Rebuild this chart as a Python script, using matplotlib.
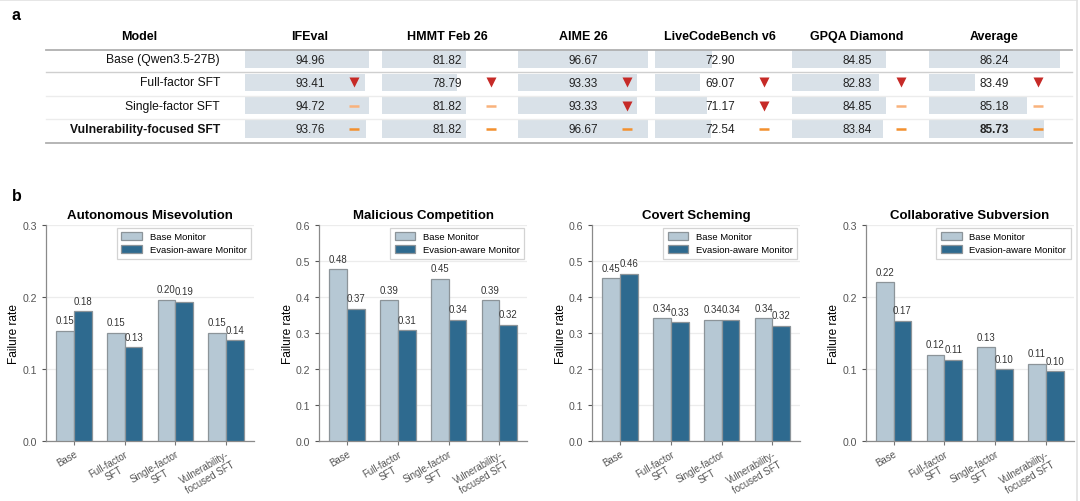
import matplotlib
matplotlib.use('Agg')
import matplotlib.pyplot as plt
import numpy as np

plt.rcParams['font.family'] = ['Liberation Sans', 'DejaVu Sans']

# ---------------- Panel a: table data ----------------
benchmarks = ['IFEval', 'HMMT Feb 26', 'AIME 26', 'LiveCodeBench v6', 'GPQA Diamond', 'Average']
models = ['Base (Qwen3.5-27B)', 'Full-factor SFT', 'Single-factor SFT', 'Vulnerability-focused SFT']
ifeval = [94.96, 93.41, 94.72, 93.76]
hmmt = [81.82, 78.79, 81.82, 81.82]
aime = [96.67, 93.33, 93.33, 96.67]
livecodebench = [72.90, 69.07, 71.17, 72.54]
gpqa = [84.85, 82.83, 84.85, 83.84]
average = [86.24, 83.49, 85.18, 85.73]
# change indicator vs. base: '' = none, 'down' = drop, 'same' = unchanged
ifeval_mark = ['', 'down', 'same', 'same']
hmmt_mark = ['', 'down', 'same', 'same']
aime_mark = ['', 'down', 'down', 'same']
livecodebench_mark = ['', 'down', 'down', 'same']
gpqa_mark = ['', 'down', 'same', 'same']
average_mark = ['', 'down', 'same', 'same']

# ---------------- Panel b: bar data ----------------
categories = ['Base', 'Full-factor\nSFT', 'Single-factor\nSFT', 'Vulnerability-\nfocused SFT']
titles = ['Autonomous Misevolution', 'Malicious Competition', 'Covert Scheming', 'Collaborative Subversion']
misevolution_base = [0.153, 0.150, 0.196, 0.150]
misevolution_evasion = [0.180, 0.130, 0.193, 0.140]
competition_base = [0.476, 0.391, 0.450, 0.391]
competition_evasion = [0.367, 0.307, 0.337, 0.323]
scheming_base = [0.452, 0.341, 0.337, 0.341]
scheming_evasion = [0.464, 0.330, 0.337, 0.320]
subversion_base = [0.220, 0.120, 0.130, 0.107]
subversion_evasion = [0.167, 0.113, 0.100, 0.097]
ymax = [0.3, 0.6, 0.6, 0.3]

W, H = 1080, 502
fig = plt.figure(figsize=(W / 100, H / 100), dpi=100)

def fx(px):
    return px / W

def fy(py):
    return 1 - py / H

# ---------- table ----------
table_cols = [ifeval, hmmt, aime, livecodebench, gpqa, average]
table_marks = [ifeval_mark, hmmt_mark, aime_mark, livecodebench_mark, gpqa_mark, average_mark]
col_centers = [310, 447, 583, 720, 857, 994]
bar_lo = [54, 54, 54, 54, 54, 82]
bar_hi = [96.95, 96.95, 96.95, 96.95, 96.95, 86.24]
row_y = [60, 83.33, 106.67, 130]
row_h = 23.33
bar_color = '#d9e1e8'

for vals, c, lo, hi in zip(table_cols, col_centers, bar_lo, bar_hi):
    bw = 131
    ax = fig.add_axes([fx(c - 65.5), fy(row_y[-1] + row_h / 2), fx(bw),
                       (row_h * 4) / H])
    ax.barh(np.arange(len(vals)), np.array(vals) - lo, left=lo, height=0.73,
            color=bar_color, edgecolor='none')
    ax.set_xlim(lo, hi)
    ax.set_ylim(3.5, -0.5)
    ax.axis('off')

ov = fig.add_axes([0, 0, 1, 1])
ov.set_xlim(0, W)
ov.set_ylim(H, 0)
ov.axis('off')

# figure frame (top/right)
ov.plot([0, 1077], [1, 1], color='#e2e2e2', lw=1.2)
ov.plot([1077, 1077], [1, H], color='#e2e2e2', lw=1.2)

ov.text(12, 16, 'a', fontsize=11.5, fontweight='bold', va='center', ha='left')
ov.text(12, 197, 'b', fontsize=11.5, fontweight='bold', va='center', ha='left')

hdr_y = 37
ov.text(139, hdr_y, 'Model', fontsize=9, fontweight='bold', ha='center', va='center')
for name, c in zip(benchmarks, col_centers):
    ov.text(c, hdr_y, name, fontsize=9, fontweight='bold', ha='center', va='center')

x0, x1 = 46, 1072
ov.plot([x0, x1], [50.7, 50.7], color='#b0b0b0', lw=1.3)
ov.plot([x0, x1], [73.3, 73.3], color='#cfcfcf', lw=1.0)
ov.plot([x0, x1], [96.7, 96.7], color='#ececec', lw=1.0)
ov.plot([x0, x1], [120.3, 120.3], color='#ececec', lw=1.0)
ov.plot([x0, x1], [143.7, 143.7], color='#b0b0b0', lw=1.3)

for i, m in enumerate(models):
    ov.text(220, row_y[i], m, fontsize=8.7, ha='right', va='center',
            fontweight='bold' if i == 3 else 'normal', color='#111111')

same_colors = {2: '#f9b27c', 3: '#f3902e'}
for j, (vals, marks, c) in enumerate(zip(table_cols, table_marks, col_centers)):
    for i, (v, mk) in enumerate(zip(vals, marks)):
        bold = (j == len(table_cols) - 1 and i == 3)
        ov.text(c, row_y[i] + 0.5, f'{v:.2f}', fontsize=8.5, ha='center', va='center',
                fontweight='bold' if bold else 'normal', color='#222222')
        mx = c + 43.5
        if mk == 'down':
            ov.plot([mx], [row_y[i]], marker='v', ms=7, color='#c62a27', mec='none')
        elif mk == 'same':
            ov.plot([mx], [row_y[i]], marker='_', ms=6.5, mew=1.8,
                    color=same_colors.get(i, '#f3902e'))

# ---------- bar charts ----------
base_series = [misevolution_base, competition_base, scheming_base, subversion_base]
evasion_series = [misevolution_evasion, competition_evasion, scheming_evasion, subversion_evasion]
ax_lefts = [46, 319.3, 592.3, 865.7]
ax_w = 208
ax_top, ax_bot = 225.7, 442.3
c_base = '#b6c8d4'
c_eva = '#2e6a8f'
edge = '#8c9499'
x = np.arange(len(categories))
bw = 0.35

for k in range(4):
    ax = fig.add_axes([fx(ax_lefts[k]), fy(ax_bot), fx(ax_w), (ax_bot - ax_top) / H])
    b1 = ax.bar(x - bw / 2, base_series[k], bw, color=c_base, edgecolor=edge,
                linewidth=0.9, label='Base Monitor', zorder=3)
    b2 = ax.bar(x + bw / 2, evasion_series[k], bw, color=c_eva, edgecolor=edge,
                linewidth=0.9, label='Evasion-aware Monitor', zorder=3)
    for bars in (b1, b2):
        for r in bars:
            ax.annotate(f'{r.get_height():.2f}', (r.get_x() + r.get_width() / 2, r.get_height()),
                        xytext=(0, 4), textcoords='offset points', ha='center', va='bottom',
                        fontsize=6.9, color='#333333')
    ax.set_xlim(-0.55, 3.55)
    ax.set_ylim(0, ymax[k])
    ax.set_yticks(np.round(np.arange(0, ymax[k] + 0.001, 0.1), 1))
    ax.set_yticklabels([f'{t:.1f}' for t in np.arange(0, ymax[k] + 0.001, 0.1)])
    ax.set_xticks(x)
    ax.set_xticklabels(categories, rotation=30, ha='right', rotation_mode='anchor',
                       fontsize=6.9, color='#555555', multialignment='center')
    ax.tick_params(axis='y', labelsize=7.6, colors='#555555', length=3, width=0.8)
    ax.tick_params(axis='x', length=3, width=0.8, colors='#777777', pad=2)
    for lab in ax.get_xticklabels():
        lab.set_color('#555555')
    ax.grid(axis='y', color='#ececec', lw=0.9, zorder=0)
    ax.set_axisbelow(True)
    for s in ['top', 'right']:
        ax.spines[s].set_visible(False)
    for s in ['left', 'bottom']:
        ax.spines[s].set_color('#8a8a8a')
        ax.spines[s].set_linewidth(0.9)
    ax.set_title(titles[k], fontsize=9.5, fontweight='bold', pad=5)
    ax.set_ylabel('Failure rate', fontsize=8.6, labelpad=1.5)
    leg = ax.legend(loc='upper right', fontsize=6.8, frameon=True, fancybox=False,
                    borderaxespad=0.3, handlelength=2.2, handleheight=0.9,
                    borderpad=0.5, labelspacing=0.4)
    leg.get_frame().set_edgecolor('#c8c8c8')
    leg.get_frame().set_linewidth(0.9)

fig.savefig('out.png', dpi=100)
